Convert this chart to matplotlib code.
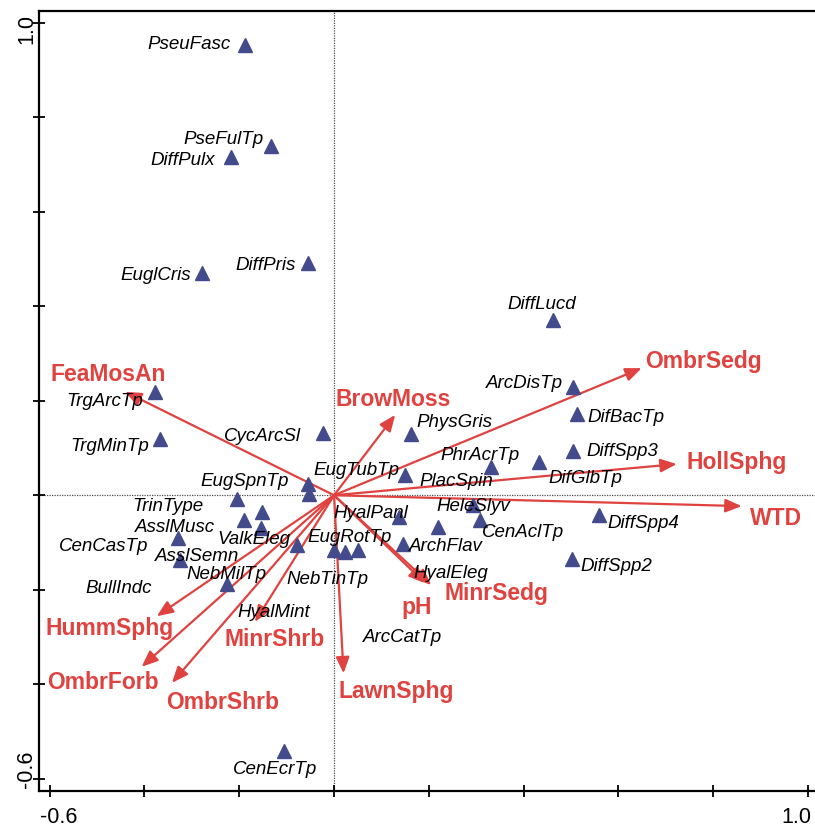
import matplotlib
matplotlib.use('Agg')
import matplotlib.pyplot as plt
from matplotlib.transforms import ScaledTranslation

plt.rcParams['font.family'] = ['Liberation Sans', 'DejaVu Sans']

# species scores (axis 1, axis 2)
species = ['PseuFasc', 'PseFulTp', 'DiffPulx', 'EuglCris', 'DiffPris', 'DiffLucd',
           'TrgArcTp', 'TrgMinTp', 'CycArcSl', 'ArcDisTp', 'DifBacTp', 'PhysGris',
           'PhrAcrTp', 'DiffSpp3', 'DifGlbTp', 'EugSpnTp', 'EugTubTp', 'PlacSpin',
           'TrinType', 'AsslMusc', 'CenCasTp', 'AsslSemn', 'ValkEleg', 'NebMilTp',
           'BullIndc', 'HyalMint', 'NebTinTp', 'EugRotTp', 'HyalPanl', 'ArchFlav',
           'HyalEleg', 'HeleSlyv', 'CenAclTp', 'DiffSpp4', 'DiffSpp2', 'ArcCatTp',
           'CenEcrTp']
sp_x = [-0.188, -0.134, -0.218, -0.278, -0.056, 0.461,
        -0.378, -0.367, -0.024, 0.504, 0.513, 0.162,
        0.331, 0.505, 0.433, -0.055, -0.053, 0.150,
        -0.205, -0.191, -0.330, -0.325, -0.079, -0.225,
        -0.154, -0.153, 0.023, 0.000, 0.136, 0.145,
        0.220, 0.294, 0.308, 0.559, 0.501, 0.051,
        -0.105]
sp_y = [0.953, 0.739, 0.715, 0.470, 0.491, 0.371,
        0.219, 0.120, 0.131, 0.230, 0.172, 0.130,
        0.059, 0.094, 0.071, 0.024, 0.003, 0.043,
        -0.007, -0.052, -0.091, -0.137, -0.105, -0.188,
        -0.070, -0.035, -0.120, -0.116, -0.046, -0.103,
        -0.068, -0.020, -0.052, -0.042, -0.134, -0.115,
        -0.541]

# environmental variables (arrow tips)
env = ['FeaMosAn', 'BrowMoss', 'OmbrSedg', 'HollSphg', 'WTD', 'pH', 'MinrSedg',
       'LawnSphg', 'MinrShrb', 'HummSphg', 'OmbrForb', 'OmbrShrb']
env_x = [-0.441, 0.129, 0.649, 0.723, 0.860, 0.192, 0.205,
         0.020, -0.167, -0.374, -0.406, -0.342]
env_y = [0.219, 0.170, 0.269, 0.066, -0.023, -0.186, -0.190,
         -0.377, -0.268, -0.256, -0.363, -0.397]

# label placement (offsets in pixels from the point)
sp_offsets = {
    'PseuFasc': (-56, 0), 'PseFulTp': (-47, 7), 'DiffPulx': (-48, -3),
    'EuglCris': (-47, -2), 'DiffPris': (-42, -2), 'DiffLucd': (-11, 15),
    'TrgArcTp': (-50, -10), 'TrgMinTp': (-50, -8), 'CycArcSl': (-60, -3),
    'ArcDisTp': (-49, 3), 'DifBacTp': (49, -4), 'PhysGris': (44, 11),
    'PhrAcrTp': (-11, 12), 'DiffSpp3': (49, -1), 'DifGlbTp': (46, -17),
    'EugSpnTp': (-63, 2), 'EugTubTp': (47, 23), 'PlacSpin': (51, -7),
    'TrinType': (-69, -8), 'AsslMusc': (-69, -8), 'CenCasTp': (-74, -8),
    'AsslSemn': (17, 3), 'ValkEleg': (-43, 5), 'NebMilTp': (-1, 10),
    'BullIndc': (-142, -60), 'HyalMint': (12, -101), 'NebTinTp': (-18, -28),
    'EugRotTp': (15, 13), 'HyalPanl': (-28, 3), 'ArchFlav': (43, -3),
    'HyalEleg': (12, -46), 'HeleSlyv': (0, -2), 'CenAclTp': (43, -13),
    'DiffSpp4': (44, -8), 'DiffSpp2': (45, -8), 'ArcCatTp': (44, -88),
    'CenEcrTp': (-9, -19),
}
env_offsets = {
    'FeaMosAn': (-17, 17), 'BrowMoss': (-2, 15), 'OmbrSedg': (62, 7),
    'HollSphg': (60, 2), 'WTD': (34, -12), 'pH': (-8, -24),
    'MinrSedg': (65, -8), 'LawnSphg': (53, -18), 'MinrShrb': (20, -18),
    'HummSphg': (-47, -12), 'OmbrForb': (-39, -16), 'OmbrShrb': (51, -20),
}

red = '#e0423f'
navy = '#434b8c'

fig = plt.figure(figsize=(8.15, 8.30), dpi=100)
ax = fig.add_axes([0.0479, 0.0470, 0.9534, 0.9398])
ax.set_xlim(-0.6224, 1.0169)
ax.set_ylim(-0.6258, 1.0248)

ax.axhline(0, color='0.3', lw=0.9, ls=(0, (1, 1)), zorder=1)
ax.axvline(0, color='0.3', lw=0.9, ls=(0, (1, 1)), zorder=1)

# arrows for environmental variables
for name, x, y in zip(env, env_x, env_y):
    ax.annotate('', xy=(x, y), xytext=(0, 0),
                arrowprops=dict(arrowstyle='-|>,head_length=0.65,head_width=0.27',
                                color=red, lw=1.6, mutation_scale=15,
                                shrinkA=0, shrinkB=0), zorder=3)
    dx, dy = env_offsets[name]
    ax.annotate(name, (x, y), xytext=(dx, dy), textcoords='offset pixels',
                ha='center', va='center', color=red, fontsize=16.5,
                fontweight='bold', zorder=5)

# species
ax.plot(sp_x, sp_y, ls='none', marker='^', ms=10, color=navy, mec=navy, zorder=4)
for name, x, y in zip(species, sp_x, sp_y):
    dx, dy = sp_offsets[name]
    ax.annotate(name, (x, y), xytext=(dx, dy), textcoords='offset pixels',
                ha='center', va='center', style='italic', fontsize=13.5,
                color='black', zorder=6)

ticks = [-0.6, -0.4, -0.2, 0.0, 0.2, 0.4, 0.6, 0.8, 1.0]
ax.set_xticks(ticks)
ax.set_xticklabels(['-0.6'] + [''] * 7 + ['1.0'])
ax.set_yticks(ticks)
ax.set_yticklabels(['-0.6'] + [''] * 7 + ['1.0'], rotation=90, va='center')
ax.tick_params(direction='inout', length=9, width=1.3, labelsize=15.5)
ax.tick_params(axis='x', pad=7)
ax.tick_params(axis='y', pad=-3)
for s in ax.spines.values():
    s.set_linewidth(1.6)

# nudge end labels inwards, like the original
xl = ax.get_xticklabels()
xl[0].set_transform(xl[0].get_transform() + ScaledTranslation(0.09, 0, fig.dpi_scale_trans))
xl[-1].set_transform(xl[-1].get_transform() + ScaledTranslation(-0.12, 0, fig.dpi_scale_trans))
yl = ax.get_yticklabels()
yl[0].set_transform(yl[0].get_transform() + ScaledTranslation(0, 0.09, fig.dpi_scale_trans))
yl[-1].set_transform(yl[-1].get_transform() + ScaledTranslation(0, -0.06, fig.dpi_scale_trans))

fig.savefig('out.png', dpi=100)
